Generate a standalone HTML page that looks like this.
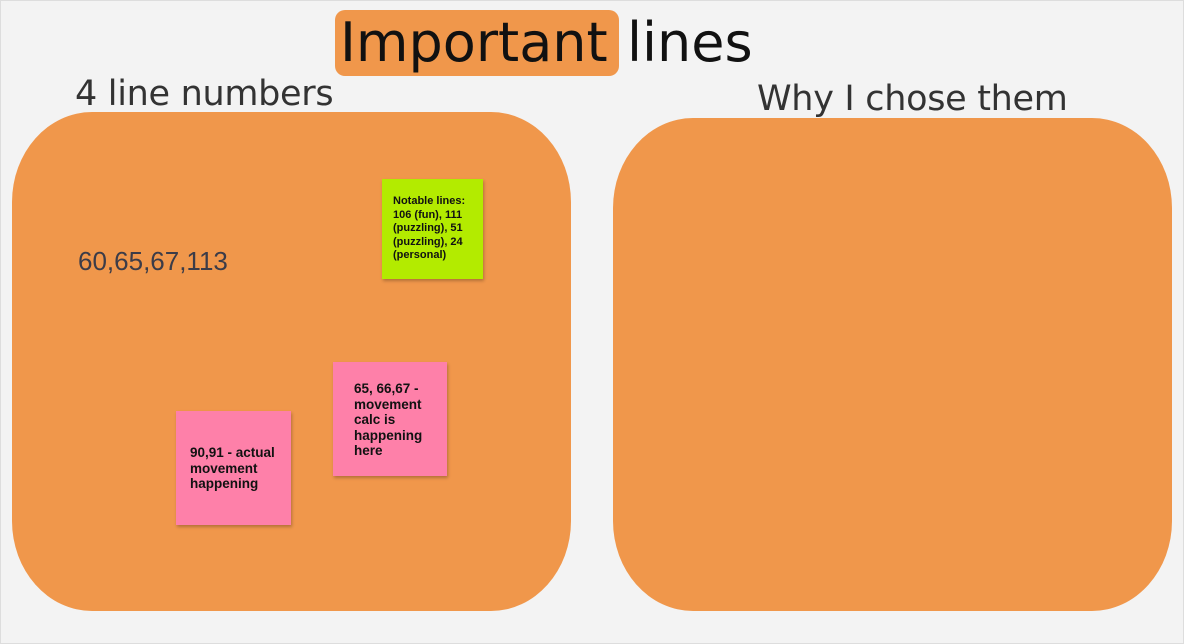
<!DOCTYPE html>
<html><head><style>
body{margin:0;width:1184px;height:644px;background:#f3f3f3;position:relative;overflow:hidden;font-family:"DejaVu Sans","Liberation Sans",sans-serif}
.frame{position:absolute;left:0;top:0;width:1182px;height:642px;border:1px solid #ddd}
.abs{position:absolute}
.panel{position:absolute;background:#f0974b;border-radius:80px/90px}
.note{position:absolute;font-family:"Liberation Sans",sans-serif;font-weight:bold;color:#111;box-shadow:1px 2px 3px rgba(0,0,0,.25)}
</style></head><body>
<div class="frame"></div>
<div class="abs" style="left:335px;top:10px;width:284px;height:66px;background:#f0974b;border-radius:10px"></div>
<div class="abs" style="left:340px;top:16px;font-size:54px;line-height:1;color:#111;white-space:nowrap">Important</div>
<div class="abs" style="left:627px;top:16px;font-size:54px;line-height:1;color:#111;white-space:nowrap">lines</div>
<div class="abs" style="left:75px;top:74px;font-size:35px;color:#333;white-space:nowrap;letter-spacing:-0.3px">4 line numbers</div>
<div class="abs" style="left:757px;top:79px;font-size:35px;color:#333;white-space:nowrap;letter-spacing:-0.3px">Why I chose them</div>
<div class="panel" style="left:12px;top:112px;width:559px;height:499px"></div>
<div class="panel" style="left:613px;top:118px;width:559px;height:493px"></div>
<div class="abs" style="left:78px;top:246px;font-size:26px;color:#3c3c48;font-family:'Liberation Sans',sans-serif">60,65,67,113</div>
<div class="note" style="left:382px;top:179px;width:101px;height:100px;background:#b3eb00;font-size:11px;line-height:13.5px;padding:16px 6px 0 11px;box-sizing:border-box">Notable lines: 106 (fun), 111 (puzzling), 51 (puzzling), 24 (personal)</div>
<div class="note" style="left:333px;top:362px;width:114px;height:114px;background:#fe80a9;font-size:13.5px;line-height:15.5px;padding:19px 14px 0 21px;box-sizing:border-box">65, 66,67 - movement calc is happening here</div>
<div class="note" style="left:176px;top:411px;width:115px;height:114px;background:#fe80a9;font-size:13.5px;line-height:15.5px;padding:34px 6px 0 14px;box-sizing:border-box">90,91 - actual movement happening</div>
</body></html>
